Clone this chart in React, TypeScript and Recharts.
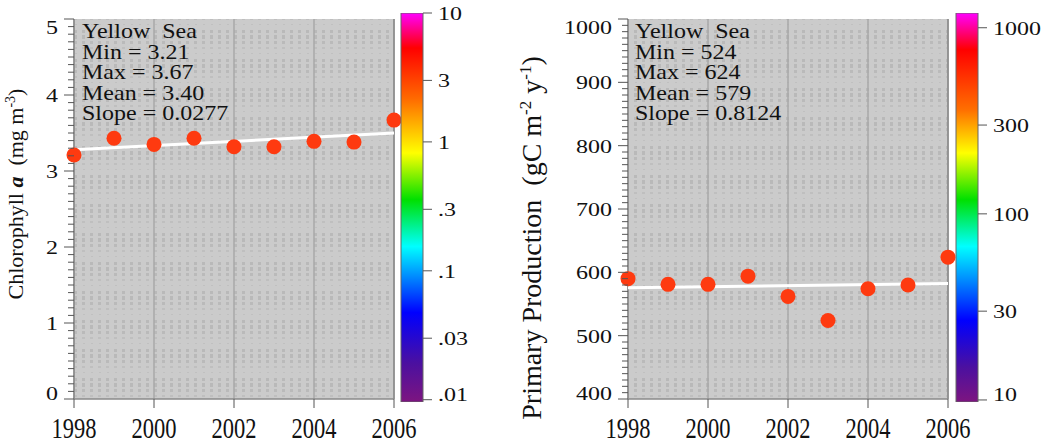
import React from 'react';
import { ScatterChart, Scatter, XAxis, YAxis, CartesianGrid, BarChart, Bar } from 'recharts';

const years = [1998, 1999, 2000, 2001, 2002, 2003, 2004, 2005, 2006];
const chlValues = [3.21, 3.43, 3.35, 3.43, 3.32, 3.32, 3.39, 3.38, 3.67];
const ppValues = [590, 581, 581, 594, 562, 524, 574, 580, 624];

const trendYears = [1998, 2006];
const chlTrend = [3.28, 3.5];
const ppTrend = [575.8, 582.3];

const xTicks = [1998, 2000, 2002, 2004, 2006];
const chlTicks = Array.from({ length: 51 }, (_, i) => i / 10);
const ppTicks = Array.from({ length: 61 }, (_, i) => 400 + i * 10);

const chlBarTicks = [0.01, 0.03, 0.1, 0.3, 1, 3, 10];
const chlBarLabels = ['.01', '.03', '.1', '.3', '1', '3', '10'];
const ppBarTicks = [10, 30, 100, 300, 1000];
const ppBarLabels = ['10', '30', '100', '300', '1000'];

const chlStats = ['Yellow\u00A0\u00A0Sea', 'Min = 3.21', 'Max = 3.67', 'Mean = 3.40', 'Slope = 0.0277'];
const ppStats = ['Yellow\u00A0\u00A0Sea', 'Min = 524', 'Max = 624', 'Mean = 579', 'Slope = 0.8124'];

const FONT = '"Liberation Serif", "DejaVu Serif", serif';
const DOT = '#fe3a10';
const AXIS = '#8a8a8a';
const TICK = '#555';

const chlPoints = years.map((year, i) => ({ year, value: chlValues[i] }));
const ppPoints = years.map((year, i) => ({ year, value: ppValues[i] }));
const chlTrendPts = trendYears.map((year, i) => ({ year, value: chlTrend[i] }));
const ppTrendPts = trendYears.map((year, i) => ({ year, value: ppTrend[i] }));

const isMajor = (v: number, step: number) => Math.abs(v / step - Math.round(v / step)) < 1e-6;

const LeftTick = (props: any) => {
  const { x, y, payload, step, min, max } = props;
  const v = payload.value;
  const major = isMajor(v, step);
  const shift = v === max ? 8 : v === min ? -6 : 0;
  return (
    <g>
      <line x1={x} x2={x - (major ? 10 : 6)} y1={y} y2={y} stroke={TICK} strokeWidth={1} />
      {major && (
        <text
          transform={`translate(${x - 16},${y + shift}) scale(1,0.82)`}
          textAnchor="end"
          dy="0.35em"
          fontSize={24}
          fontFamily={FONT}
          fill="#111"
        >
          {v}
        </text>
      )}
    </g>
  );
};

const RightTick = (props: any) => {
  const { x, y, payload, step } = props;
  const major = isMajor(payload.value, step);
  return <line x1={x} x2={x - (major ? 8 : 5)} y1={y} y2={y} stroke={TICK} strokeWidth={1} />;
};

const BottomTick = (props: any) => {
  const { x, y, payload } = props;
  return (
    <g>
      <line x1={x} x2={x} y1={y} y2={y + 9} stroke={TICK} strokeWidth={1} />
      <text
        transform={`translate(${x},${y + 39}) scale(1,1.28)`}
        textAnchor="middle"
        fontSize={22.5}
        fontFamily={FONT}
        fill="#111"
      >
        {payload.value}
      </text>
    </g>
  );
};

const TopTick = (props: any) => {
  const { x, y } = props;
  return <line x1={x} x2={x} y1={y} y2={y - 9} stroke={TICK} strokeWidth={1} />;
};

const BarTick = (props: any) => {
  const { x, y, payload, ticks, labels } = props;
  const idx = ticks.indexOf(payload.value);
  const shift = idx === 0 ? -6 : 0;
  return (
    <g>
      <line x1={x} x2={x + 9} y1={y} y2={y} stroke={TICK} strokeWidth={1} />
      <text
        transform={`translate(${x + 15},${y + shift}) scale(1,0.82)`}
        textAnchor="start"
        dy="0.35em"
        fontSize={24}
        fontFamily={FONT}
        fill="#111"
      >
        {labels[idx]}
      </text>
    </g>
  );
};

const Panel = ({ points, trend, domain, ticks, step, leftWidth, width, rightMargin }: any) => (
  <ScatterChart width={width} height={445} margin={{ top: 19, right: rightMargin, bottom: 0, left: 0 }}>
    <CartesianGrid
      horizontal={false}
      stroke="#a9a9a9"
      strokeWidth={1.5}
      fill="url(#tex)"
      fillOpacity={1}
    />
    <XAxis
      dataKey="year"
      type="number"
      domain={[1998, 2006]}
      ticks={xTicks}
      interval={0}
      height={46}
      tickSize={0}
      tickMargin={0}
      tickLine={false}
      axisLine={{ stroke: AXIS, strokeWidth: 1.5 }}
      tick={(p: any) => <BottomTick {...p} />}
    />
    <XAxis
      xAxisId="top"
      orientation="top"
      dataKey="year"
      type="number"
      domain={[1998, 2006]}
      ticks={xTicks}
      interval={0}
      height={0}
      tickSize={0}
      tickMargin={0}
      tickLine={false}
      axisLine={{ stroke: AXIS, strokeWidth: 1.5 }}
      tick={(p: any) => <TopTick {...p} />}
    />
    <YAxis
      dataKey="value"
      type="number"
      domain={domain}
      ticks={ticks}
      interval={0}
      width={leftWidth}
      tickSize={0}
      tickMargin={0}
      tickLine={false}
      axisLine={{ stroke: AXIS, strokeWidth: 1.5 }}
      tick={(p: any) => <LeftTick {...p} step={step} min={domain[0]} max={domain[1]} />}
    />
    <YAxis
      yAxisId="right"
      orientation="right"
      dataKey="value"
      type="number"
      domain={domain}
      ticks={ticks}
      interval={0}
      width={6}
      tickSize={0}
      tickMargin={0}
      tickLine={false}
      axisLine={{ stroke: AXIS, strokeWidth: 1.5 }}
      tick={(p: any) => <RightTick {...p} step={step} />}
    />
    <Scatter
      data={trend}
      line={{ stroke: '#ffffff', strokeWidth: 3 }}
      shape={() => <g />}
      isAnimationActive={false}
    />
    <Scatter
      data={points}
      fill={DOT}
      shape={(p: any) => <circle cx={p.cx} cy={p.cy} r={7.5} fill={DOT} />}
      isAnimationActive={false}
    />
  </ScatterChart>
);

const ColorBar = ({ domain, ticks, labels, gradient, yWidth }: any) => (
  <BarChart
    width={6 + 22 + yWidth}
    height={445}
    data={[{ name: 'bar', v: domain[1] }]}
    margin={{ top: 13, right: 0, bottom: 43, left: 6 }}
    barCategoryGap={0}
  >
    <XAxis dataKey="name" hide />
    <YAxis
      orientation="right"
      type="number"
      scale="log"
      domain={domain}
      allowDataOverflow
      ticks={ticks}
      interval={0}
      width={yWidth}
      tickSize={0}
      tickMargin={0}
      tickLine={false}
      axisLine={false}
      tick={(p: any) => <BarTick {...p} ticks={ticks} labels={labels} />}
    />
    <Bar dataKey="v" fill={`url(#${gradient})`} stroke="#666" strokeWidth={1} isAnimationActive={false} />
  </BarChart>
);

const StatBlock = ({ x, lines }: { x: number; lines: string[] }) => (
  <g>
    {lines.map((t, i) => (
      <text
        key={i}
        transform={`translate(${x},${38 + i * 20.5}) scale(1,0.85)`}
        fontSize={24}
        fontFamily={FONT}
        fill="#111"
      >
        {t}
      </text>
    ))}
  </g>
);

export default function App() {
  return (
    <div style={{ position: 'absolute', left: 0, top: 0, width: 1055, height: 445, background: '#fff', overflow: 'hidden' }}>
      <svg width={0} height={0} style={{ position: 'absolute' }}>
        <defs>
          <pattern id="tex" patternUnits="userSpaceOnUse" width={8} height={29}>
            <rect width={8} height={29} fill="#cbcbcb" />
            <rect x={2} y={1} width={3} height={3} fill="#b9b9b9" />
            <rect x={2} y={6} width={3} height={4} fill="#b9b9b9" />
            <rect x={2} y={12} width={3} height={3} fill="#bababa" />
            <rect x={2} y={18} width={3} height={2} fill="#bfbfbf" />
            <rect x={3} y={24} width={2} height={1} fill="#c0c0c0" />
          </pattern>
          <linearGradient id="gradL" x1="0" y1="0" x2="0" y2="1">
            <stop offset="0" stopColor="#ff00ff" />
            <stop offset="0.09" stopColor="#ff0000" />
            <stop offset="0.22" stopColor="#ff6a00" />
            <stop offset="0.36" stopColor="#ffff00" />
            <stop offset="0.48" stopColor="#00e000" />
            <stop offset="0.6" stopColor="#00ffff" />
            <stop offset="0.77" stopColor="#0000ff" />
            <stop offset="0.9" stopColor="#4b10a0" />
            <stop offset="1" stopColor="#7d1580" />
          </linearGradient>
          <linearGradient id="gradR" x1="0" y1="0" x2="0" y2="1">
            <stop offset="0" stopColor="#ff00ff" />
            <stop offset="0.094" stopColor="#ff0000" />
            <stop offset="0.25" stopColor="#ff7000" />
            <stop offset="0.36" stopColor="#ffff00" />
            <stop offset="0.48" stopColor="#00e000" />
            <stop offset="0.6" stopColor="#00ffff" />
            <stop offset="0.79" stopColor="#0000ff" />
            <stop offset="0.91" stopColor="#4b10a0" />
            <stop offset="1" stopColor="#7d1580" />
          </linearGradient>
        </defs>
      </svg>

      <div style={{ position: 'absolute', left: 0, top: 0 }}>
        <Panel points={chlPoints} trend={chlTrendPts} domain={[0, 5]} ticks={chlTicks} step={1} leftWidth={74} width={430} rightMargin={30} />
      </div>
      <div style={{ position: 'absolute', left: 395, top: 0 }}>
        <ColorBar domain={[0.0096, 10]} ticks={chlBarTicks} labels={chlBarLabels} gradient="gradL" yWidth={72} />
      </div>
      <div style={{ position: 'absolute', left: 520, top: 0 }}>
        <Panel points={ppPoints} trend={ppTrendPts} domain={[400, 1000]} ticks={ppTicks} step={100} leftWidth={108} width={464} rightMargin={30} />
      </div>
      <div style={{ position: 'absolute', left: 950, top: 0 }}>
        <ColorBar domain={[9.75, 1200]} ticks={ppBarTicks} labels={ppBarLabels} gradient="gradR" yWidth={77} />
      </div>

      <svg width={1055} height={445} style={{ position: 'absolute', left: 0, top: 0, pointerEvents: 'none' }}>
        <StatBlock x={82} lines={chlStats} />
        <StatBlock x={635} lines={ppStats} />
        <text transform="translate(23,194) rotate(-90)" textAnchor="middle" fontSize={22} fontFamily={FONT} fill="#111">
          Chlorophyll <tspan fontWeight="bold" fontStyle="italic">a</tspan>
          {'\u00A0\u00A0(mg m'}
          <tspan dy={-8} fontSize={14}>-3</tspan>
          <tspan dy={8}>)</tspan>
        </text>
        <text transform="translate(541,238) rotate(-90)" textAnchor="middle" fontSize={28} fontFamily={FONT} fill="#111">
          {'Primary Production\u00A0\u00A0(gC m'}
          <tspan dy={-10} fontSize={17}>-2</tspan>
          <tspan dy={10}>{'\u00A0y'}</tspan>
          <tspan dy={-10} fontSize={17}>-1</tspan>
          <tspan dy={10}>)</tspan>
        </text>
      </svg>
    </div>
  );
}
